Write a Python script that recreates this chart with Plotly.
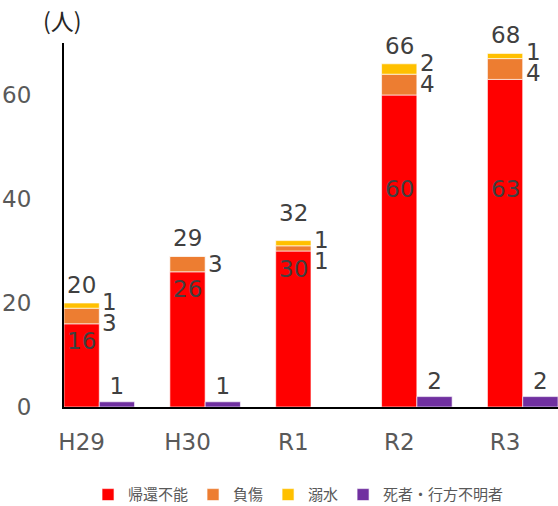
import plotly.graph_objects as go
import numpy as np

categories = ["H29", "H30", "R1", "R2", "R3"]
kikan_funou = [16, 26, 30, 60, 63]   # 帰還不能
fushou = [3, 3, 1, 4, 4]             # 負傷
dekisui = [1, 0, 1, 2, 1]            # 溺水
shisha = [1, 1, 0, 2, 2]             # 死者・行方不明者
series_names = ["帰還不能", "負傷", "溺水", "死者・行方不明者"]
colors = ["#FF0000", "#ED7D31", "#FFC000", "#7030A0"]

red = np.array(kikan_funou)
ora = np.array(fushou)
yel = np.array(dekisui)
pur = np.array(shisha)
totals = red + ora + yel

W = 1 / 3
LABEL_FONT = dict(family="DejaVu Sans", size=23, color="#404040")

fig = go.Figure()
common = dict(x=categories, width=W, marker_line=dict(color="rgba(255,255,255,0.8)", width=0.8),
              hoverinfo="skip")
fig.add_trace(go.Bar(name=series_names[0], y=red, base=0, offset=-W / 2,
                     marker_color=colors[0], **common))
fig.add_trace(go.Bar(name=series_names[1], y=ora, base=red, offset=-W / 2,
                     marker_color=colors[1], **common))
fig.add_trace(go.Bar(name=series_names[2], y=yel, base=red + ora, offset=-W / 2,
                     marker_color=colors[2], **common))
fig.add_trace(go.Bar(name=series_names[3], y=pur, base=0, offset=W / 2,
                     marker_color=colors[3],
                     text=[str(v) if v > 0 else "" for v in pur],
                     textposition="outside", textfont=LABEL_FONT, cliponaxis=False,
                     **common))

annotations = []
for i, c in enumerate(categories):
    # red value inside bar
    annotations.append(dict(x=i, y=min(red[i] - 3, 42.3), xref="x", yref="y",
                            text=str(red[i]), showarrow=False, font=LABEL_FONT,
                            xanchor="center", yanchor="middle", yshift=-2))
    # total above stack
    crowded = ora[i] > 0 and yel[i] > 0 and ora[i] + yel[i] <= 2
    annotations.append(dict(x=i, y=totals[i], xref="x", yref="y",
                            text=str(totals[i]), showarrow=False, font=LABEL_FONT,
                            xanchor="center", yanchor="middle",
                            yshift=28 if crowded else 18))
    # side labels
    if yel[i] > 0:
        annotations.append(dict(x=i + W / 2, y=totals[i], xref="x", yref="y",
                                text=str(yel[i]), showarrow=False, font=LABEL_FONT,
                                xanchor="left", yanchor="middle", xshift=1, yshift=1))
        if ora[i] > 0:
            annotations.append(dict(x=i + W / 2, y=totals[i], xref="x", yref="y",
                                    text=str(ora[i]), showarrow=False, font=LABEL_FONT,
                                    xanchor="left", yanchor="middle", xshift=1, yshift=-20))
    elif ora[i] > 0:
        annotations.append(dict(x=i + W / 2, y=red[i] + ora[i] / 2, xref="x", yref="y",
                                text=str(ora[i]), showarrow=False, font=LABEL_FONT,
                                xanchor="left", yanchor="middle", xshift=1))

annotations.append(dict(x=-0.004, y=1.063, xref="paper", yref="paper", text="(人)",
                        showarrow=False, xanchor="center", yanchor="middle",
                        font=dict(family="Noto Sans CJK JP", size=23, color="#262626")))

fig.update_layout(
    width=558, height=506,
    margin=dict(l=64, r=0, t=43, b=99, autoexpand=False),
    barmode="overlay",
    plot_bgcolor="white", paper_bgcolor="white",
    showlegend=True,
    legend=dict(orientation="h", x=0.535, xref="container", xanchor="center",
                y=0.022, yref="container", yanchor="middle",
                font=dict(family="Noto Sans CJK JP", size=15, color="#595959"),
                traceorder="normal", itemwidth=30),
    annotations=annotations,
    font=dict(family="DejaVu Sans"),
    hovermode=False,
)
fig.update_xaxes(type="category", range=[-W / 2, 4.5], showline=True, linecolor="black",
                 linewidth=2, ticks="", showgrid=False, fixedrange=True, automargin=False,
                 tickfont=dict(family="DejaVu Sans", size=23, color="#595959"),
                 ticklabelstandoff=13)
fig.update_yaxes(range=[0, 70], tickvals=[0, 20, 40, 60], showline=True, linecolor="black",
                 linewidth=2, ticks="", showgrid=False, zeroline=False, fixedrange=True,
                 automargin=False,
                 tickfont=dict(family="DejaVu Sans", size=23, color="#595959"),
                 ticklabelstandoff=26)

fig.write_html("out.html", config={"displayModeBar": False},
               post_script="document.body.style.margin='0';document.body.style.overflow='hidden';")
